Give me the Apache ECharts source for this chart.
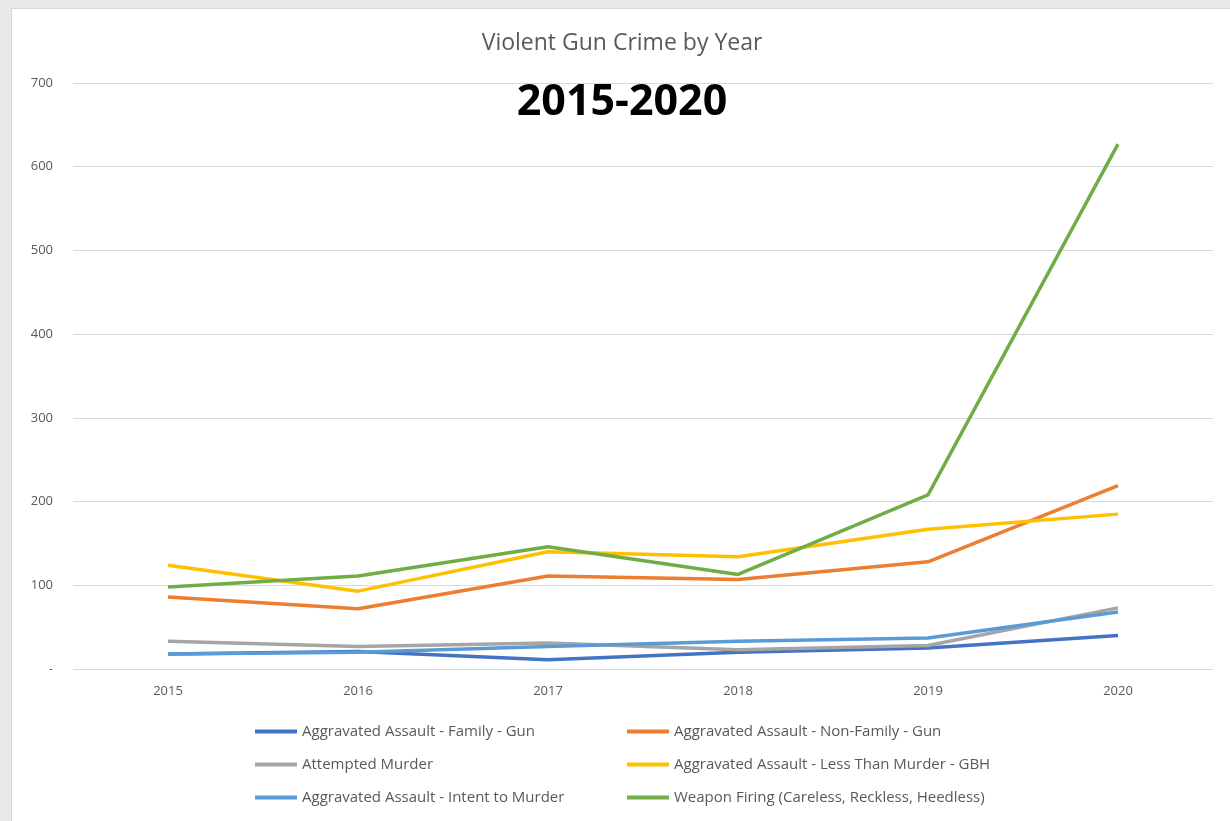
<!DOCTYPE html>
<html>
<head>
<meta charset="utf-8">
<script src="https://cdn.jsdelivr.net/npm/echarts@6/dist/echarts.min.js"></script>
<style>
html,body{margin:0;padding:0;background:#e8e8e6;}
#chart{width:1230px;height:821px;}
</style>
</head>
<body>
<div id="chart"></div>
<script>
const years = ['2015','2016','2017','2018','2019','2020'];
const seriesNames = [
  'Aggravated Assault - Family - Gun',
  'Aggravated Assault - Non-Family - Gun',
  'Attempted Murder',
  'Aggravated Assault - Less Than Murder - GBH',
  'Aggravated Assault - Intent to Murder',
  'Weapon Firing (Careless, Reckless, Heedless)'
];
const familyGun = [18, 21, 11, 20, 25, 40];
const nonFamilyGun = [86, 72, 111, 107, 128, 219];
const attemptedMurder = [33, 27, 31, 23, 28, 73];
const lessThanMurderGBH = [124, 93, 140, 134, 167, 185];
const intentToMurder = [18, 20, 27, 33, 37, 68];
const weaponFiring = [98, 111, 146, 113, 208, 627];
const seriesValues = [familyGun, nonFamilyGun, attemptedMurder, lessThanMurderGBH, intentToMurder, weaponFiring];
const colors = ['#4472C4', '#ED7D31', '#A5A5A5', '#FFC000', '#5B9BD5', '#70AD47'];

const chart = echarts.init(document.getElementById('chart'));
const font = "'Open Sans', 'Liberation Sans', sans-serif";
chart.setOption({
  backgroundColor: '#e8e8e6',
  animation: false,
  color: colors,
  graphic: [{
    type: 'rect', left: 11, top: 8, z: -10,
    shape: {width: 1230, height: 830},
    style: {fill: '#ffffff', stroke: '#d9d9d9', lineWidth: 1}
  }],
  title: [{
    text: 'Violent Gun Crime by Year',
    left: 617, textAlign: 'center', top: 27,
    textStyle: {fontFamily: font, fontSize: 23, fontWeight: 'normal', color: '#595959'}
  }, {
    text: '2015-2020',
    left: 617, textAlign: 'center', top: 76,
    textStyle: {fontFamily: font, fontSize: 43, fontWeight: 'bold', color: '#000000'}
  }],
  grid: {left: 73, right: 17, top: 83, bottom: 152, containLabel: false},
  xAxis: {
    type: 'category', data: years, boundaryGap: true,
    axisLine: {show: false}, axisTick: {show: false},
    axisLabel: {fontFamily: font, fontSize: 13, color: '#595959', margin: 16}
  },
  yAxis: {
    type: 'value', min: 0, max: 700, interval: 100,
    axisLine: {show: false}, axisTick: {show: false},
    splitLine: {lineStyle: {color: '#d9d9d9', width: 1}},
    axisLabel: {fontFamily: font, fontSize: 13, color: '#595959', margin: 20,
      formatter: v => v === 0 ? '-' : String(v)}
  },
  legend: [{
    orient: 'vertical', left: 255, top: 721, itemGap: 12, padding: 0,
    icon: 'rect', itemWidth: 42, itemHeight: 4,
    textStyle: {fontFamily: font, fontSize: 15, color: '#595959', lineHeight: 21},
    data: [seriesNames[0], seriesNames[2], seriesNames[4]]
  }, {
    orient: 'vertical', left: 627, top: 721, itemGap: 12, padding: 0,
    icon: 'rect', itemWidth: 42, itemHeight: 4,
    textStyle: {fontFamily: font, fontSize: 15, color: '#595959', lineHeight: 21},
    data: [seriesNames[1], seriesNames[3], seriesNames[5]]
  }],
  series: seriesNames.map((n, i) => ({
    name: n, type: 'line', data: seriesValues[i],
    symbol: 'none', lineStyle: {width: 3.5, color: colors[i]},
    itemStyle: {color: colors[i]}
  }))
});
</script>
</body>
</html>
